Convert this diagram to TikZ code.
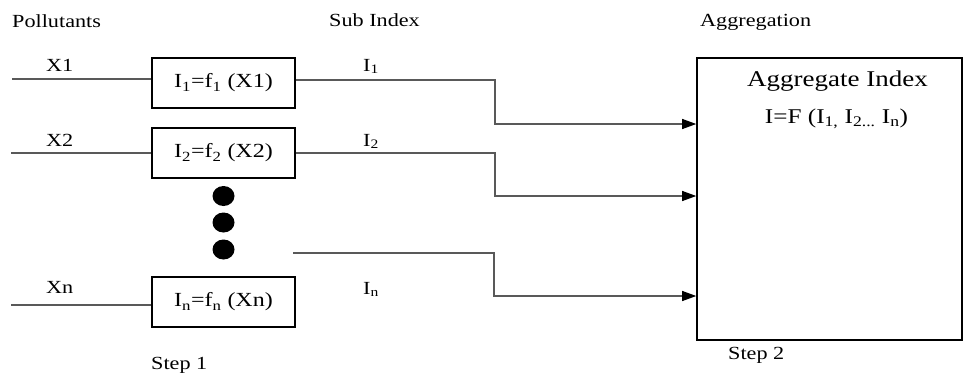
\documentclass[tikz,border=0pt]{standalone}
\usepackage{fontspec}
\setmainfont{Liberation Serif}[FakeStretch=1.2]
\usetikzlibrary{arrows.meta,calc}
\tikzset{
  lbl/.style={inner sep=0pt,anchor=base west,font=\fontsize{18.5}{20}\selectfont},
  fbox/.style={draw=black,line width=1.6pt,minimum width=143pt,minimum height=50pt,inner sep=0pt,font=\fontsize{20}{22}\selectfont},
  wire/.style={draw=black!65,line width=1.1pt},
  arr/.style={wire,-{Triangle[length=14pt,width=10pt,fill=black,color=black]}},
  dot/.style={fill=black}
}
\begin{document}
\begin{tikzpicture}[x=1pt,y=-1pt]
\useasboundingbox (0,0) rectangle (964,376);
% headings
\node[lbl] (hp) at (12,27) {Pollutants};
\node[lbl] (hs) at (329,26) {Sub Index};
\node[lbl] (ha) at (700,26) {Aggregation};
% function boxes
\node[fbox] (b1) at (223.5,83) {I\textsubscript{1}=f\textsubscript{1} (X1)};
\node[fbox] (b2) at (223.5,153) {I\textsubscript{2}=f\textsubscript{2} (X2)};
\node[fbox] (bn) at (223.5,302) {I\textsubscript{n}=f\textsubscript{n} (Xn)};
% dots
\fill[dot] (223.5,196) ellipse [x radius=11pt,y radius=10pt];
\fill[dot] (223.5,222.5) ellipse [x radius=11pt,y radius=10pt];
\fill[dot] (223.5,249.5) ellipse [x radius=11pt,y radius=10pt];
% big box
\node[draw=black,line width=1.6pt,minimum width=265pt,minimum height=282pt,inner sep=0pt] (big) at (829.5,199) {};
\node[inner sep=0pt,anchor=base,font=\fontsize{22.5}{24}\selectfont] (agt) at (837.5,86) {Aggregate Index};
\node[inner sep=0pt,anchor=base,font=\fontsize{21}{23}\selectfont] (agf) at (836.5,123) {I=F (I\textsubscript{1,} I\textsubscript{2...} I\textsubscript{n})};
% input labels and lines
\node[lbl] (lx1) at (46,71) {X1};
\node[lbl] (lx2) at (46,146) {X2};
\node[lbl] (lxn) at (46,293) {Xn};
\coordinate (in1) at (12,79);
\coordinate (in2) at (11,153);
\coordinate (inn) at (11,305);
\draw[wire] (in1) -- (in1 -| b1.west);
\draw[wire] (in2) -- (in2 -| b2.west);
\draw[wire] (inn) -- (inn -| bn.west);
% sub index labels
\node[lbl] (li1) at (363,71) {I\textsubscript{1}};
\node[lbl] (li2) at (363,146) {I\textsubscript{2}};
\node[lbl] (lin) at (363,294) {I\textsubscript{n}};
% output connectors
\coordinate (t1) at (495,80);
\coordinate (t2) at (495,153);
\coordinate (sn) at (293,253);
\coordinate (tn) at (494,253);
\coordinate (e1) at (697,124);
\coordinate (e2) at (697,196);
\coordinate (en) at (697,296);
\draw[arr] (b1.east |- t1) -- (t1) -- (t1 |- e1) -- (e1 -| big.west);
\draw[arr] (b2.east |- t2) -- (t2) -- (t2 |- e2) -- (e2 -| big.west);
\draw[arr] (sn) -- (tn) -- (tn |- en) -- (en -| big.west);
% steps
\node[lbl] (s1) at (151,369) {Step 1};
\node[lbl] (s2) at (728,359) {Step 2};
\end{tikzpicture}
\end{document}
